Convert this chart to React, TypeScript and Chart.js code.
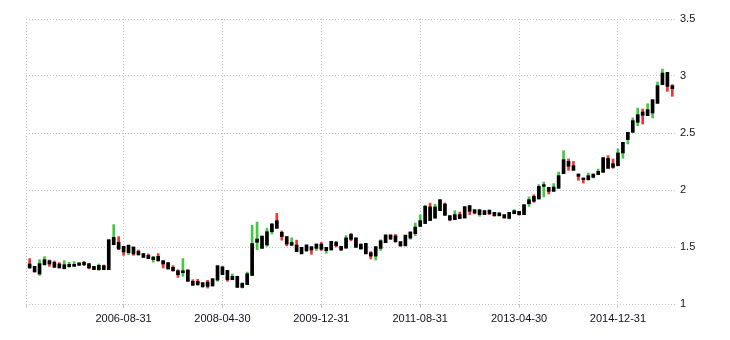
import React, { useEffect, useRef } from "react";
import { Chart, registerables } from "chart.js";
Chart.register(...registerables);

const START_YEAR = 2005;
const START_MONTH = 1;

const openV = [
  1.351, 1.330, 1.263, 1.345, 1.380, 1.365, 1.351, 1.310, 1.327, 1.330,
  1.339, 1.365, 1.354, 1.301, 1.301, 1.336, 1.301, 1.520, 1.541, 1.506,
  1.450, 1.500, 1.462, 1.442, 1.427, 1.389, 1.418, 1.380, 1.363, 1.322,
  1.292, 1.275, 1.298, 1.199, 1.199, 1.187, 1.193, 1.158, 1.210, 1.325,
  1.295, 1.213, 1.243, 1.146, 1.170, 1.250, 1.541, 1.488, 1.518, 1.634,
  1.731, 1.629, 1.591, 1.515, 1.518, 1.497, 1.518, 1.503, 1.488, 1.526,
  1.468, 1.474, 1.541, 1.506, 1.490, 1.611, 1.580, 1.482, 1.532, 1.450,
  1.420, 1.488, 1.538, 1.606, 1.598, 1.547, 1.510, 1.578, 1.617, 1.680,
  1.706, 1.852, 1.753, 1.819, 1.877, 1.775, 1.740, 1.784, 1.754, 1.863,
  1.827, 1.784, 1.819, 1.822, 1.804, 1.775, 1.784, 1.751, 1.792, 1.813,
  1.784, 1.880, 1.944, 1.921, 2.032, 2.023, 1.988, 2.015, 2.143, 2.251,
  2.213, 2.140, 2.105, 2.091, 2.111, 2.135, 2.155, 2.278, 2.231, 2.213,
  2.325, 2.442, 2.506, 2.594, 2.684, 2.652, 2.675, 2.760, 2.924, 3.032,
  2.915,
];
const highV = [
  1.398, 1.330, 1.389, 1.415, 1.386, 1.377, 1.363, 1.380, 1.365, 1.371,
  1.363, 1.374, 1.354, 1.330, 1.351, 1.342, 1.564, 1.696, 1.591, 1.506,
  1.520, 1.500, 1.474, 1.442, 1.439, 1.418, 1.442, 1.380, 1.363, 1.336,
  1.301, 1.398, 1.301, 1.213, 1.216, 1.187, 1.208, 1.222, 1.336, 1.330,
  1.295, 1.263, 1.243, 1.187, 1.280, 1.690, 1.719, 1.596, 1.664, 1.708,
  1.795, 1.640, 1.591, 1.580, 1.560, 1.497, 1.518, 1.503, 1.526, 1.540,
  1.497, 1.550, 1.550, 1.506, 1.600, 1.620, 1.580, 1.530, 1.532, 1.460,
  1.503, 1.564, 1.606, 1.606, 1.610, 1.547, 1.604, 1.632, 1.710, 1.782,
  1.866, 1.885, 1.875, 1.915, 1.886, 1.775, 1.819, 1.807, 1.854, 1.863,
  1.827, 1.827, 1.819, 1.827, 1.804, 1.804, 1.784, 1.804, 1.827, 1.813,
  1.871, 1.939, 1.959, 2.047, 2.070, 2.023, 2.056, 2.158, 2.345, 2.272,
  2.251, 2.140, 2.105, 2.149, 2.140, 2.184, 2.284, 2.301, 2.272, 2.360,
  2.418, 2.506, 2.632, 2.719, 2.711, 2.757, 2.792, 2.947, 3.061, 3.032,
  2.924,
];
const lowV = [
  1.315, 1.281, 1.251, 1.339, 1.330, 1.322, 1.316, 1.307, 1.322, 1.330,
  1.339, 1.336, 1.308, 1.301, 1.295, 1.301, 1.301, 1.520, 1.477, 1.427,
  1.433, 1.427, 1.427, 1.409, 1.398, 1.368, 1.374, 1.316, 1.307, 1.287,
  1.234, 1.243, 1.199, 1.164, 1.164, 1.146, 1.140, 1.158, 1.199, 1.257,
  1.199, 1.213, 1.146, 1.140, 1.170, 1.250, 1.477, 1.488, 1.505, 1.614,
  1.664, 1.560, 1.510, 1.510, 1.459, 1.440, 1.460, 1.436, 1.470, 1.470,
  1.445, 1.474, 1.500, 1.468, 1.490, 1.555, 1.497, 1.482, 1.440, 1.395,
  1.386, 1.470, 1.538, 1.565, 1.540, 1.505, 1.510, 1.568, 1.600, 1.680,
  1.706, 1.732, 1.753, 1.819, 1.778, 1.730, 1.740, 1.749, 1.754, 1.784,
  1.790, 1.770, 1.784, 1.784, 1.769, 1.770, 1.754, 1.746, 1.792, 1.778,
  1.784, 1.857, 1.892, 1.921, 1.939, 1.965, 1.988, 2.015, 2.143, 2.173,
  2.173, 2.085, 2.061, 2.085, 2.105, 2.135, 2.155, 2.190, 2.190, 2.213,
  2.278, 2.404, 2.506, 2.564, 2.579, 2.652, 2.632, 2.760, 2.924, 2.865,
  2.822,
];
const closeV = [
  1.316, 1.281, 1.354, 1.389, 1.351, 1.322, 1.316, 1.345, 1.348, 1.348,
  1.360, 1.345, 1.316, 1.330, 1.339, 1.301, 1.564, 1.585, 1.482, 1.456,
  1.515, 1.439, 1.433, 1.409, 1.398, 1.412, 1.380, 1.351, 1.307, 1.292,
  1.257, 1.292, 1.199, 1.164, 1.170, 1.152, 1.155, 1.222, 1.336, 1.257,
  1.213, 1.243, 1.146, 1.181, 1.265, 1.530, 1.570, 1.596, 1.634, 1.702,
  1.664, 1.591, 1.526, 1.540, 1.459, 1.440, 1.468, 1.474, 1.526, 1.480,
  1.497, 1.550, 1.512, 1.474, 1.580, 1.567, 1.497, 1.524, 1.440, 1.420,
  1.503, 1.555, 1.606, 1.570, 1.547, 1.510, 1.604, 1.632, 1.675, 1.731,
  1.858, 1.732, 1.851, 1.915, 1.778, 1.737, 1.784, 1.749, 1.854, 1.813,
  1.798, 1.827, 1.784, 1.792, 1.775, 1.798, 1.754, 1.804, 1.819, 1.784,
  1.871, 1.915, 1.901, 2.032, 2.047, 1.988, 2.026, 2.126, 2.266, 2.208,
  2.173, 2.120, 2.091, 2.126, 2.140, 2.164, 2.284, 2.190, 2.199, 2.325,
  2.418, 2.506, 2.608, 2.661, 2.655, 2.705, 2.792, 2.915, 3.026, 2.909,
  2.889,
];

const tickLabels = [
  "2006-08-31",
  "2008-04-30",
  "2009-12-31",
  "2011-08-31",
  "2013-04-30",
  "2014-12-31",
];
const yTickValues = [1, 1.5, 2, 2.5, 3, 3.5];

const GREEN = "#42c842";
const RED = "#ee3535";
const GRID = "#c4c4c4";
const TEXT = "#111122";
const FONT = { family: "'Liberation Sans', Arial, sans-serif", size: 11 };

export default function App() {
  const ref = useRef<HTMLCanvasElement>(null);
  useEffect(() => {
    if (!ref.current) return;
    const n = openV.length;
    const bodies = openV.map((o, i) => ({
      x: i,
      y: [Math.min(o, closeV[i]), Math.max(o, closeV[i])],
    }));
    const wicks = openV.map((o, i) => ({ x: i, y: [lowV[i], highV[i]] }));
    const wickColors = openV.map((o, i) => (closeV[i] < o ? RED : GREEN));
    const tickIdx = tickLabels.map((s) => {
      const [yy, mm] = s.split("-").map(Number);
      return (yy - START_YEAR) * 12 + (mm - START_MONTH);
    });
    const pad = 0.74;
    const chart = new Chart(ref.current, {
      type: "bar",
      data: {
        datasets: [
          {
            data: bodies as any,
            backgroundColor: "#000",
            barThickness: 3,
            grouped: false,
            order: 0,
            borderWidth: 0,
          } as any,
          {
            data: wicks as any,
            backgroundColor: wickColors,
            barThickness: 2,
            grouped: false,
            order: 1,
            borderWidth: 0,
          } as any,
        ],
      },
      options: {
        animation: false,
        responsive: false,
        maintainAspectRatio: false,
        layout: { padding: { left: 26, top: 19, right: 0, bottom: 0 } },
        plugins: { legend: { display: false }, tooltip: { enabled: false } },
        scales: {
          x: {
            type: "linear",
            offset: false,
            min: -pad,
            max: n - 1 + pad,
            afterBuildTicks: (s: any) => {
              s.ticks = [{ value: -pad }, ...tickIdx.map((v) => ({ value: v }))];
            },
            afterFit: (s: any) => {
              s.height = 36;
            },
            ticks: {
              autoSkip: false,
              maxRotation: 0,
              minRotation: 0,
              padding: 4,
              font: FONT,
              color: TEXT,
              callback: (_v: any, i: number) => (i === 0 ? "" : tickLabels[i - 1]),
            },
            grid: { color: GRID, tickLength: 4, drawTicks: true, offset: false },
            border: { display: false, dash: [1, 2] },
          },
          y: {
            position: "right",
            min: 1,
            max: 3.5,
            afterBuildTicks: (s: any) => {
              s.ticks = yTickValues.map((v) => ({ value: v }));
            },
            afterFit: (s: any) => {
              s.width = 54;
            },
            ticks: {
              padding: 4,
              font: FONT,
              color: TEXT,
              callback: (v: any) => String(v),
            },
            grid: { color: GRID, drawTicks: false },
            border: { display: false, dash: [1, 2] },
          },
        },
      } as any,
    });
    return () => chart.destroy();
  }, []);
  return (
    <div
      style={{
        position: "fixed",
        left: 0,
        top: 0,
        width: 730,
        height: 340,
        background: "#fff",
      }}
    >
      <canvas ref={ref} width={730} height={340} style={{ display: "block" }} />
    </div>
  );
}
